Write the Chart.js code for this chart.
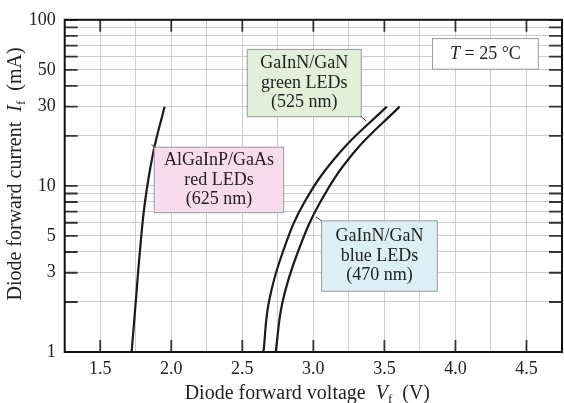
<!DOCTYPE html>
<html>
<head>
<meta charset="utf-8">
<script src="https://cdn.jsdelivr.net/npm/chart.js@4.4.0/dist/chart.umd.min.js"></script>
<style>
    html, body { margin: 0; padding: 0; background: #fff; overflow: hidden; }
    #wrap { position: relative; width: 568px; height: 403px; }
</style>
</head>
<body>
<div id="wrap"><canvas id="chart"></canvas></div>
<script>
// values (voltage in V, current in mA)
const currents = [1, 2, 4, 8, 16, 30];
const redV   = [1.721, 1.750, 1.779, 1.815, 1.874, 1.953];
const greenV = [2.649, 2.687, 2.785, 2.938, 3.189, 3.517];
const blueV  = [2.735, 2.783, 2.891, 3.049, 3.288, 3.607];

const xGrid   = [1.25, 1.5, 1.75, 2.0, 2.25, 2.5, 2.75, 3.0, 3.25, 3.5, 3.75, 4.0, 4.25, 4.5, 4.75];
const xLabels = [1.5, 2.0, 2.5, 3.0, 3.5, 4.0, 4.5];
const yGrid   = [1, 2, 3, 4, 5, 6, 7, 8, 9, 10, 20, 30, 40, 50, 60, 70, 80, 90, 100];
const yLabels = [1, 3, 5, 10, 30, 50, 100];

// label boxes in data space: [x1, x2, yLow, yHigh]
const notes = [
    { lines: ["GaInN/GaN", "green LEDs", "(525 nm)"], box: [2.535, 3.337, 26.1, 66.3], fill: "#e2f0da",
      leader: [[3.337, 26.1], [3.372, 24.6]] },
    { lines: ["AlGaInP/GaAs", "red LEDs", "(625 nm)"], box: [1.880, 2.791, 6.9, 17.1], fill: "#f9dcec",
      leader: [[1.880, 17.1], [1.862, 17.8]] },
    { lines: ["GaInN/GaN", "blue LEDs", "(470 nm)"], box: [3.058, 3.872, 2.32, 6.16], fill: "#ddeff6",
      leader: [[3.058, 6.16], [3.020, 6.5]] }
];
const tempBox = [3.839, 4.583, 50.4, 77.1];

const FONT = "'Liberation Serif', 'Times New Roman', serif";

function pts(xs, ys) {
    return xs.map((v, i) => ({ x: v, y: ys[i] }));
}

function curve(xs, ys) {
    return {
        data: pts(xs, ys),
        borderColor: "#1a1a1a",
        borderWidth: 2.2,
        pointRadius: 0,
        tension: 0.4,
        fill: false
    };
}

// draws a run of text pieces, each with its own font, starting at x
function drawRuns(ctx, runs, x, y) {
    runs.forEach(r => {
        ctx.font = r.font;
        ctx.fillText(r.t, x, y + (r.dy || 0));
        x += ctx.measureText(r.t).width;
    });
}
function runsWidth(ctx, runs) {
    let w = 0;
    runs.forEach(r => { ctx.font = r.font; w += ctx.measureText(r.t).width; });
    return w;
}

const decor = {
    id: "decor",
    afterDraw(chart) {
        const ctx = chart.ctx;
        const xs = chart.scales.x, ys = chart.scales.y;
        const a = chart.chartArea;
        ctx.save();

        // inward tick marks
        ctx.strokeStyle = "#333";
        ctx.lineWidth = 1.8;
        ctx.beginPath();
        yGrid.forEach(v => {
            const py = ys.getPixelForValue(v);
            ctx.moveTo(a.left, py); ctx.lineTo(a.left + 13, py);
            ctx.moveTo(a.right, py); ctx.lineTo(a.right - 13, py);
        });
        xLabels.forEach(v => {
            const px = xs.getPixelForValue(v);
            ctx.moveTo(px, a.bottom); ctx.lineTo(px, a.bottom - 12);
            ctx.moveTo(px, a.top); ctx.lineTo(px, a.top + 12);
        });
        ctx.stroke();

        // frame
        ctx.strokeStyle = "#111";
        ctx.lineWidth = 2;
        ctx.strokeRect(a.left, a.top, a.right - a.left, a.bottom - a.top);

        // label boxes
        ctx.textAlign = "center";
        ctx.textBaseline = "middle";
        notes.forEach(n => {
            const x1 = xs.getPixelForValue(n.box[0]), x2 = xs.getPixelForValue(n.box[1]);
            const y1 = ys.getPixelForValue(n.box[3]), y2 = ys.getPixelForValue(n.box[2]);
            ctx.fillStyle = n.fill;
            ctx.fillRect(x1, y1, x2 - x1, y2 - y1);
            ctx.strokeStyle = "#9a9a9a";
            ctx.lineWidth = 1;
            ctx.strokeRect(x1, y1, x2 - x1, y2 - y1);
            ctx.strokeStyle = "#333";
            ctx.beginPath();
            ctx.moveTo(xs.getPixelForValue(n.leader[0][0]), ys.getPixelForValue(n.leader[0][1]));
            ctx.lineTo(xs.getPixelForValue(n.leader[1][0]), ys.getPixelForValue(n.leader[1][1]));
            ctx.stroke();
            ctx.fillStyle = "#222";
            ctx.font = "18px " + FONT;
            const cx = (x1 + x2) / 2, cy = (y1 + y2) / 2, lh = 19.5;
            n.lines.forEach((t, i) => {
                ctx.fillText(t, cx, cy + (i - (n.lines.length - 1) / 2) * lh);
            });
        });

        // temperature box
        {
            const x1 = xs.getPixelForValue(tempBox[0]), x2 = xs.getPixelForValue(tempBox[1]);
            const y1 = ys.getPixelForValue(tempBox[3]), y2 = ys.getPixelForValue(tempBox[2]);
            ctx.fillStyle = "#fff";
            ctx.fillRect(x1, y1, x2 - x1, y2 - y1);
            ctx.strokeStyle = "#9a9a9a";
            ctx.lineWidth = 1;
            ctx.strokeRect(x1, y1, x2 - x1, y2 - y1);
            ctx.fillStyle = "#222";
            ctx.textAlign = "left";
            const runs = [
                { t: "T", font: "italic 18px " + FONT },
                { t: " = 25 \u00B0C", font: "18px " + FONT }
            ];
            const w = runsWidth(ctx, runs);
            drawRuns(ctx, runs, (x1 + x2) / 2 - w / 2, (y1 + y2) / 2);
        }

        // axis titles
        ctx.fillStyle = "#222";
        ctx.textAlign = "left";
        ctx.textBaseline = "alphabetic";
        const xt = [
            { t: "Diode forward voltage  ", font: "20px " + FONT },
            { t: "V", font: "italic 20px " + FONT },
            { t: "f", font: "13px " + FONT, dy: 4 },
            { t: "  (V)", font: "20px " + FONT }
        ];
        const wx = runsWidth(ctx, xt);
        drawRuns(ctx, xt, (a.left + a.right) / 2 - 6 - wx / 2, 399);

        const yt = [
            { t: "Diode forward current  ", font: "20px " + FONT },
            { t: "I", font: "italic 20px " + FONT },
            { t: "f", font: "13px " + FONT, dy: 4 },
            { t: "  (mA)", font: "20px " + FONT }
        ];
        const wy = runsWidth(ctx, yt);
        ctx.translate(21, 174);
        ctx.rotate(-Math.PI / 2);
        drawRuns(ctx, yt, -wy / 2, 0);
        ctx.restore();
    }
};

new Chart(document.getElementById("chart"), {
    type: "line",
    data: {
        datasets: [curve(redV, currents), curve(greenV, currents), curve(blueV, currents)]
    },
    options: {
        responsive: true,
        maintainAspectRatio: false,
        animation: false,
        layout: { padding: { left: 0, top: 16, right: 1.4, bottom: 0 } },
        plugins: {
            legend: { display: false },
            tooltip: { enabled: false }
        },
        scales: {
            x: {
                type: "linear",
                min: 1.25,
                max: 4.75,
                afterBuildTicks: s => { s.ticks = xGrid.map(v => ({ value: v })); },
                afterFit: s => { s.height = 51; },
                grid: { color: "#cdcdcd", lineWidth: 1, drawTicks: false },
                border: { display: false },
                ticks: {
                    padding: 6,
                    color: "#222",
                    font: { family: FONT, size: 18 },
                    maxRotation: 0,
                    autoSkip: false,
                    callback: v => xLabels.includes(v) ? v.toFixed(1) : ""
                }
            },
            y: {
                type: "logarithmic",
                min: 1,
                max: 100,
                afterBuildTicks: s => { s.ticks = yGrid.map(v => ({ value: v })); },
                afterFit: s => { s.width = 64.7; },
                grid: { color: "#cdcdcd", lineWidth: 1, drawTicks: false },
                border: { display: false },
                ticks: {
                    padding: 9,
                    color: "#222",
                    font: { family: FONT, size: 18 },
                    autoSkip: false,
                    callback: v => yLabels.includes(v) ? String(v) : ""
                }
            }
        }
    },
    plugins: [decor]
});
</script>
</body>
</html>
